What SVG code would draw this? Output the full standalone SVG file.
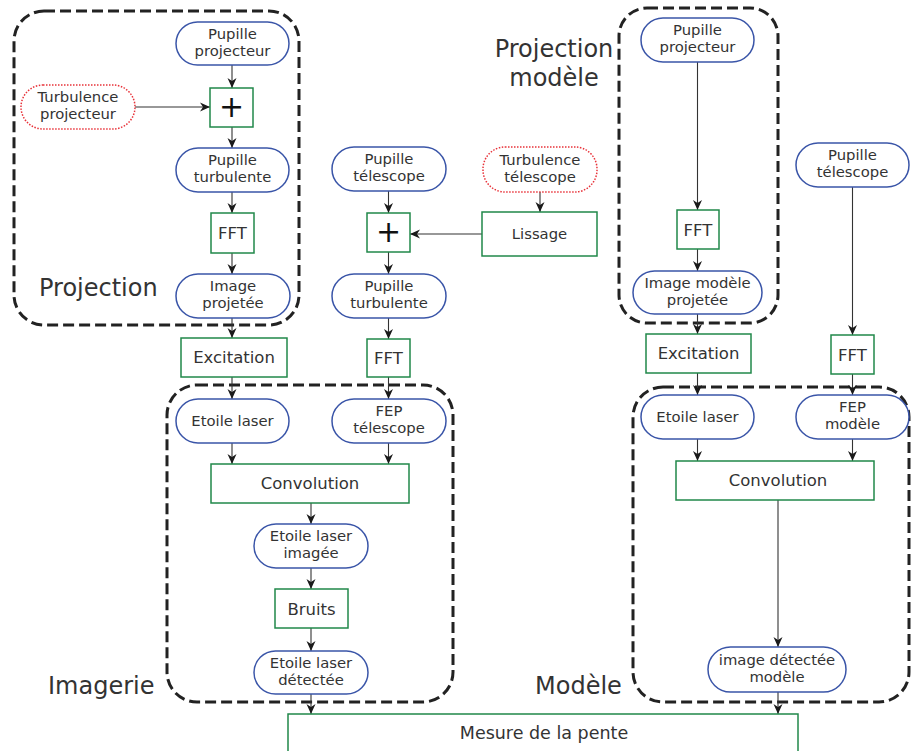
<svg xmlns="http://www.w3.org/2000/svg" width="911" height="751" viewBox="0 0 911 751">
<defs>
<marker id="arr" markerUnits="userSpaceOnUse" markerWidth="12" markerHeight="10" refX="10" refY="5" orient="auto" viewBox="0 0 12 10">
<path d="M0,0.5 L10,5 L0,9.5 L3,5 z" fill="#1a1a1a"/>
</marker>
<style>
text{font-family:"DejaVu Sans","Liberation Sans",sans-serif;fill:#333;text-anchor:middle}
.data{fill:#fff;stroke:#3a55a8;stroke-width:1.5}
.proc{fill:#fff;stroke:#20884a;stroke-width:1.5}
.turb{fill:#fff;stroke:#e8333a;stroke-width:1.5;stroke-dasharray:1.5 1.5}
.grp{fill:none;stroke:#222;stroke-width:3;stroke-dasharray:11 5}
.n{font-size:14.8px}
.p{font-size:16.5px}
.big{font-size:24px;text-anchor:start}
.plus{font-size:30px;fill:#111}
.c{fill:none;stroke:#333;stroke-width:1.1;marker-end:url(#arr)}
</style>
</defs>
<rect width="911" height="751" fill="#fff"/>

<g id="groups">
<rect class="grp" x="14" y="11" width="285" height="314" rx="30"/>
<rect class="grp" x="619" y="8" width="159" height="315" rx="28"/>
<rect class="grp" x="167" y="385" width="286" height="317" rx="30"/>
<rect class="grp" x="633" y="387" width="276" height="315" rx="30"/>
</g>

<g id="labels">
<text class="big" x="39" y="296">Projection</text>
<text class="big" x="48" y="694">Imagerie</text>
<text class="big" x="535" y="694">Modèle</text>
<text class="big" x="554" y="57" style="text-anchor:middle">Projection</text>
<text class="big" x="554" y="86" style="text-anchor:middle">modèle</text>
</g>

<g id="connectors">
<path class="c" d="M232,65 V88"/>
<path class="c" d="M135,107 H210"/>
<path class="c" d="M232,127 V148"/>
<path class="c" d="M232,192 V213"/>
<path class="c" d="M232,253 V274"/>
<path class="c" d="M232,318 V338"/>
<path class="c" d="M232,377 V399"/>
<path class="c" d="M388.5,191 V213"/>
<path class="c" d="M540,192 V212"/>
<path class="c" d="M482,234 H410"/>
<path class="c" d="M388.5,252 V274"/>
<path class="c" d="M388.5,318 V339"/>
<path class="c" d="M388.5,377 V399"/>
<path class="c" d="M232,443 V464"/>
<path class="c" d="M388.5,443 V464"/>
<path class="c" d="M311,503 V524"/>
<path class="c" d="M311,568 V589"/>
<path class="c" d="M311,628 V651"/>
<path class="c" d="M311,694 V714"/>
<path class="c" d="M697.5,62 V210"/>
<path class="c" d="M697.5,249 V271"/>
<path class="c" d="M697.5,314 V334"/>
<path class="c" d="M697.5,373 V395"/>
<path class="c" d="M852.5,187 V335"/>
<path class="c" d="M852.5,374 V395"/>
<path class="c" d="M697.5,439 V461"/>
<path class="c" d="M852.5,439 V461"/>
<path class="c" d="M778,500 V647"/>
<path class="c" d="M778,692 V714"/>
</g>

<g id="pupille-projecteur">
<rect class="data" x="176" y="22" width="113" height="43" rx="21.5"/>
<text class="n" x="232.5" y="39">Pupille</text>
<text class="n" x="232.5" y="56">projecteur</text>
</g>
<g id="turbulence-projecteur">
<rect class="turb" x="21" y="85" width="114" height="44" rx="22"/>
<text class="n" x="78" y="102">Turbulence</text>
<text class="n" x="78" y="119">projecteur</text>
</g>
<g id="plus-projecteur">
<rect class="proc" x="210" y="88" width="43" height="39"/>
<text class="plus" x="231.5" y="117">+</text>
</g>
<g id="pupille-turbulente-proj">
<rect class="data" x="176" y="148" width="113" height="44" rx="22"/>
<text class="n" x="232.5" y="165">Pupille</text>
<text class="n" x="232.5" y="182">turbulente</text>
</g>
<g id="fft-proj">
<rect class="proc" x="211" y="213" width="43" height="40"/>
<text class="p" x="232.5" y="239">FFT</text>
</g>
<g id="image-projetee">
<rect class="data" x="176" y="274" width="114" height="44" rx="22"/>
<text class="n" x="233" y="291">Image</text>
<text class="n" x="233" y="308">projetée</text>
</g>
<g id="excitation">
<rect class="proc" x="181" y="338" width="106" height="39"/>
<text class="p" x="234" y="363">Excitation</text>
</g>

<g id="pupille-telescope">
<rect class="data" x="332" y="147" width="114" height="44" rx="22"/>
<text class="n" x="389" y="164">Pupille</text>
<text class="n" x="389" y="181">télescope</text>
</g>
<g id="turbulence-telescope">
<rect class="turb" x="483" y="147" width="114" height="45" rx="22"/>
<text class="n" x="540" y="165">Turbulence</text>
<text class="n" x="540" y="182">télescope</text>
</g>
<g id="lissage">
<rect class="proc" x="482" y="212" width="115" height="44"/>
<text class="n" x="539.5" y="239">Lissage</text>
</g>
<g id="plus-telescope">
<rect class="proc" x="367" y="213" width="43" height="39"/>
<text class="plus" x="388.5" y="242">+</text>
</g>
<g id="pupille-turbulente-tel">
<rect class="data" x="332" y="274" width="114" height="44" rx="22"/>
<text class="n" x="389" y="291">Pupille</text>
<text class="n" x="389" y="308">turbulente</text>
</g>
<g id="fft-tel">
<rect class="proc" x="367" y="339" width="43" height="38"/>
<text class="p" x="388.5" y="364">FFT</text>
</g>

<g id="etoile-laser">
<rect class="data" x="176" y="399" width="113" height="44" rx="22"/>
<text class="n" x="232.5" y="426">Etoile laser</text>
</g>
<g id="fep-telescope">
<rect class="data" x="332" y="399" width="114" height="44" rx="22"/>
<text class="n" x="389" y="416">FEP</text>
<text class="n" x="389" y="433">télescope</text>
</g>
<g id="convolution">
<rect class="proc" x="211" y="464" width="198" height="39"/>
<text class="p" x="310" y="489">Convolution</text>
</g>
<g id="etoile-laser-imagee">
<rect class="data" x="254" y="524" width="114" height="44" rx="22"/>
<text class="n" x="311" y="541">Etoile laser</text>
<text class="n" x="311" y="558">imagée</text>
</g>
<g id="bruits">
<rect class="proc" x="275" y="589" width="73" height="39"/>
<text class="p" x="311.5" y="615">Bruits</text>
</g>
<g id="etoile-laser-detectee">
<rect class="data" x="254" y="651" width="114" height="43" rx="21.5"/>
<text class="n" x="311" y="668">Etoile laser</text>
<text class="n" x="311" y="685">détectée</text>
</g>

<g id="pupille-projecteur-modele">
<rect class="data" x="641" y="18" width="113" height="44" rx="22"/>
<text class="n" x="697.5" y="35">Pupille</text>
<text class="n" x="697.5" y="52">projecteur</text>
</g>
<g id="fft-modele">
<rect class="proc" x="677" y="210" width="42" height="39"/>
<text class="p" x="698" y="236">FFT</text>
</g>
<g id="image-modele-projetee">
<rect class="data" x="633" y="271" width="129" height="43" rx="21.5"/>
<text class="n" x="697.5" y="288">Image modèle</text>
<text class="n" x="697.5" y="305">projetée</text>
</g>
<g id="excitation-modele">
<rect class="proc" x="646" y="334" width="105" height="39"/>
<text class="p" x="698.5" y="359">Excitation</text>
</g>
<g id="pupille-telescope-modele">
<rect class="data" x="796" y="143" width="113" height="44" rx="22"/>
<text class="n" x="852.5" y="160">Pupille</text>
<text class="n" x="852.5" y="177">télescope</text>
</g>
<g id="fft-telescope-modele">
<rect class="proc" x="831" y="335" width="43" height="39"/>
<text class="p" x="852.5" y="361">FFT</text>
</g>
<g id="etoile-laser-modele">
<rect class="data" x="641" y="395" width="113" height="44" rx="22"/>
<text class="n" x="697.5" y="422">Etoile laser</text>
</g>
<g id="fep-modele">
<rect class="data" x="796" y="395" width="113" height="44" rx="22"/>
<text class="n" x="852.5" y="412">FEP</text>
<text class="n" x="852.5" y="429">modèle</text>
</g>
<g id="convolution-modele">
<rect class="proc" x="676" y="461" width="198" height="39"/>
<text class="p" x="778" y="486">Convolution</text>
</g>
<g id="image-detectee-modele">
<rect class="data" x="708" y="647" width="138" height="45" rx="22.5"/>
<text class="n" x="777" y="665">image détectée</text>
<text class="n" x="777" y="682">modèle</text>
</g>

<g id="mesure-pente">
<rect class="proc" x="288" y="714" width="510" height="50"/>
<text class="p" x="544" y="739" style="font-size:17.5px">Mesure de la pente</text>
</g>
</svg>
